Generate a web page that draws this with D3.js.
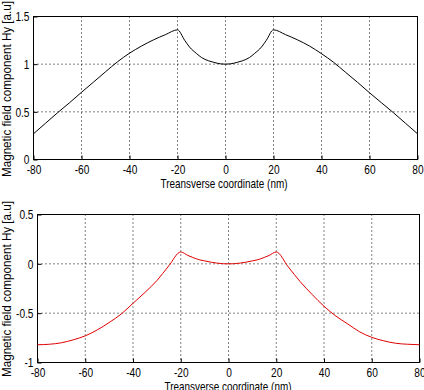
<!DOCTYPE html>
<html>
<head>
<meta charset="utf-8">
<script src="https://cdn.jsdelivr.net/npm/d3@7"></script>
<style>
  body { margin: 0; background: #fff; }
  text { font-family: "Liberation Sans", Arial, sans-serif; }
</style>
</head>
<body>
<svg id="chart" width="424" height="390"></svg>
<script>
// transverse positions (nm)
var xs = [-80,-75,-70,-65,-60,-55,-50,-45,-40,-35,-30,-25,-20,-17,-15,-12,-10,-7,-5,-2,0,
          2,5,7,10,12,15,17,20,25,30,35,40,45,50,55,60,65,70,75,80];

// top panel, black curve
var hyTop = [0.27,0.38,0.49,0.595,0.705,0.812,0.92,1.025,1.115,1.19,1.255,1.31,1.36,1.25,1.18,1.11,1.07,1.035,1.02,1.003,1.0,
             1.003,1.02,1.035,1.07,1.11,1.18,1.25,1.36,1.31,1.255,1.19,1.11,1.02,0.915,0.81,0.70,0.595,0.49,0.38,0.27];

// bottom panel, red curve
var hyBottom = [-0.82,-0.815,-0.80,-0.77,-0.73,-0.67,-0.595,-0.51,-0.40,-0.29,-0.17,-0.02,0.12,0.085,0.065,0.04,0.03,0.015,0.008,0.001,0,
                0.001,0.008,0.015,0.03,0.04,0.065,0.085,0.12,-0.03,-0.18,-0.31,-0.43,-0.53,-0.61,-0.69,-0.745,-0.78,-0.805,-0.815,-0.82];

var xTicks = [-80,-60,-40,-20,0,20,40,60,80];
var yTicksTop = [0,0.5,1,1.5];
var yTicksBottom = [-1,-0.5,0,0.5];

var svg = d3.select("#chart");

// matlab style labels, plain hyphen for minus
function fmt(d) {
  var s = Number.isInteger(d) ? String(Math.abs(d)) : Math.abs(d).toFixed(1);
  return (d < 0 ? "-" : "") + s;
}

// squeeze text to look like the narrow matlab font
function narrow(sel, k) {
  sel.each(function() {
    var w = this.getComputedTextLength();
    d3.select(this).attr("textLength", w * k).attr("lengthAdjust", "spacingAndGlyphs");
  });
}

function drawPanel(box, yDomain, yTicks, values, color)
{
  var x = d3.scaleLinear().domain([-80,80]).range([box.left, box.right]);
  var y = d3.scaleLinear().domain(yDomain).range([box.bottom, box.top]);
  var g = svg.append("g");

  // dotted grid
  g.selectAll(".vg").data(xTicks.slice(1,-1)).enter().append("line")
    .attr("x1", d => x(d)).attr("x2", d => x(d))
    .attr("y1", box.top).attr("y2", box.bottom)
    .attr("stroke", "#000").attr("stroke-width", 1)
    .attr("stroke-dasharray", "1,3");
  g.selectAll(".hg").data(yTicks.slice(1,-1)).enter().append("line")
    .attr("x1", box.left).attr("x2", box.right)
    .attr("y1", d => y(d)).attr("y2", d => y(d))
    .attr("stroke", "#000").attr("stroke-width", 1)
    .attr("stroke-dasharray", "1,3");

  // axes
  var xAxis = d3.axisBottom(x).tickValues(xTicks).tickSize(-4).tickPadding(5).tickFormat(fmt);
  var yAxis = d3.axisLeft(y).tickValues(yTicks).tickSize(-4).tickPadding(4).tickFormat(fmt);
  var ax = g.append("g").attr("transform", "translate(0," + box.bottom + ")").call(xAxis);
  var ay = g.append("g").attr("transform", "translate(" + box.left + ",0)").call(yAxis);
  [ax, ay].forEach(function(a) {
    a.select(".domain").remove();
    a.selectAll("text").attr("fill", "#000").style("font-size", "13px").call(narrow, 0.78);
    a.selectAll("line").attr("stroke", "#000");
  });

  // frame
  g.append("rect")
    .attr("x", box.left).attr("y", box.top)
    .attr("width", box.right - box.left).attr("height", box.bottom - box.top)
    .attr("fill", "none").attr("stroke", "#000").attr("stroke-width", 1);

  // curve
  var line = d3.line().x((d,i) => x(xs[i])).y(d => y(d)).curve(d3.curveMonotoneX);
  g.append("path").datum(values)
    .attr("d", line)
    .attr("fill", "none").attr("stroke", color).attr("stroke-width", 1);

  // labels
  g.append("text")
    .attr("x", box.labelX).attr("y", box.bottom + 28)
    .attr("text-anchor", "middle").style("font-size", "13px")
    .attr("textLength", 127).attr("lengthAdjust", "spacingAndGlyphs")
    .text("Treansverse coordinate (nm)");
  g.append("text")
    .attr("transform", "translate(" + 11 + "," + box.labelY + ") rotate(-90)")
    .attr("text-anchor", "middle")
    .style("font-size", "12.5px")
    .attr("textLength", 176).attr("lengthAdjust", "spacingAndGlyphs")
    .text("Magnetic field component Hy [a.u]");
}

drawPanel({left: 33.5, right: 417.5, top: 16.5, bottom: 159.5, labelX: 224, labelY: 89}, [0,1.5], yTicksTop, hyTop, "#000");
drawPanel({left: 37.5, right: 419.5, top: 214.5, bottom: 362.5, labelX: 228, labelY: 289}, [-1,0.5], yTicksBottom, hyBottom, "#e00000");
</script>
</body>
</html>
